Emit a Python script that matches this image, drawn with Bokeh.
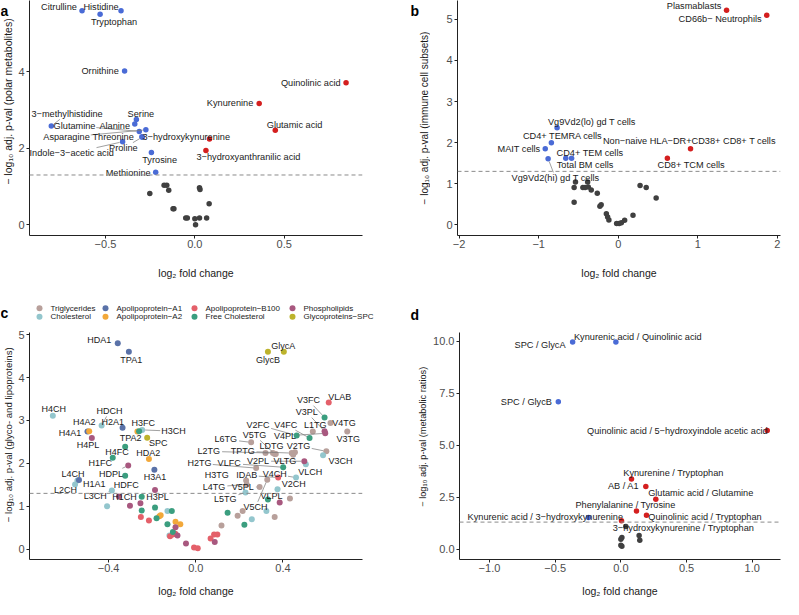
import math
from bokeh.plotting import figure
from bokeh.models import Range1d, Span, FixedTicker, CustomJSTickFormatter
from bokeh.layouts import row, column
from bokeh.embed import file_html
from bokeh.resources import INLINE
from bokeh.core.properties import value

SIG_LEVEL = 0.05
X_TITLE = "log\u2082 fold change"

# ---------------- panel a : polar metabolites ----------------
A_YTITLE = "\u2212 log\u2081\u2080 adj. p-val (polar metabolites)"
A_XTICKS = [-0.5, 0.0, 0.5]
A_YTICKS = [0, 2, 4]
a_names = ["Citrulline", "Histidine", "Tryptophan", "Ornithine", "Serine", "Alanine",
           "3\u2212methylhistidine", "Glutamine", "Asparagine", "Threonine", "Proline",
           "Indole\u22123\u2212acetic acid", "Tyrosine", "Methionine",
           "Quinolinic acid", "Kynurenine", "Glutamic acid", "3\u2212hydroxykynurenine",
           "3\u2212hydroxyanthranilic acid"]
a_fc = [-0.631, -0.413, -0.530, -0.393, -0.327, -0.336, -0.803, -0.311, -0.274, -0.296, -0.294,
        -0.404, -0.243, -0.219, 0.846, 0.360, 0.450, 0.082, 0.062]
a_p = [5.59, 5.59, 5.50, 4.02, 2.75, 2.63, 2.58, 2.44, 2.48, 2.30, 2.29,
       2.17, 1.89, 1.37, 3.71, 3.17, 2.47, 2.24, 1.94]
a_lab_x = [-0.760, -0.525, -0.452, -0.530, -0.302, -0.448, -0.715, -0.673, -0.718, -0.457, -0.400,
           -0.689, -0.197, -0.373, 0.649, 0.197, 0.558, -0.048, 0.300]
a_lab_y = [5.70, 5.70, 5.29, 4.01, 2.90, 2.59, 2.90, 2.59, 2.29, 2.29, 2.00,
           1.87, 1.70, 1.36, 3.70, 3.17, 2.62, 2.29, 1.77]
a_leader = ["3\u2212methylhistidine", "Glutamine", "Asparagine", "Proline", "Indole\u22123\u2212acetic acid"]
a_ns_fc = [-0.252, -0.172, -0.157, -0.146, 0.026, 0.029, 0.080, -0.122, -0.117, -0.051, -0.042,
           0.000, 0.026, 0.066, 0.004]
a_ns_p = [0.82, 1.03, 1.03, 0.90, 0.97, 0.92, 0.55, 0.42, 0.42, 0.18, 0.18, 0.16, 0.18, 0.18, 0.00]

# ---------------- panel b : immune cell subsets ----------------
B_YTITLE = "\u2212 log\u2081\u2080 adj. p-val (immune cell subsets)"
B_XTICKS = [-2, -1, 0, 1, 2]
B_YTICKS = [0, 1, 2, 3, 4, 5]
b_names = ["Plasmablasts", "CD66b\u2212 Neutrophils", "Non\u2212naive HLA\u2212DR+CD38+ CD8+ T cells",
           "CD8+ TCM cells", "Vg9Vd2(lo) gd T cells", "CD4+ TEMRA cells", "MAIT cells",
           "CD4+ TEM cells", "Total BM cells", "Vg9Vd2(hi) gd T cells"]
b_fc = [1.362, 1.867, 0.909, 0.618, -0.768, -0.840, -0.917, -0.586, -0.659, -0.881]
b_p = [5.22, 5.10, 1.85, 1.62, 2.36, 2.00, 1.85, 1.62, 1.62, 1.61]
b_lab_x = [0.954, 1.281, 0.895, 0.917, -0.331, -0.699, -1.248, -0.356, -0.416, -0.788]
b_lab_y = [5.32, 5.02, 2.04, 1.46, 2.50, 2.16, 1.85, 1.75, 1.46, 1.14]
b_leader = ["Vg9Vd2(hi) gd T cells"]
b_ns_fc = [-0.537, -0.554, -0.444, -0.416, -0.384, -0.376, -0.339, -0.554, -0.263, -0.230, -0.214,
           -0.149, -0.133, -0.117, -0.020, 0.012, 0.040, 0.081, 0.186, 0.275, 0.352, 0.477]
b_ns_p = [1.04, 0.91, 0.91, 0.91, 1.04, 0.92, 0.85, 0.55, 0.77, 0.45, 0.49,
          0.27, 0.19, 0.12, 0.03, 0.03, 0.05, 0.11, 0.23, 0.96, 0.91, 0.65]

# ---------------- panel c : glyco- and lipoproteins ----------------
C_YTITLE = "\u2212 log\u2081\u2080 adj. p-val (glyco- and lipoproteins)"
C_XTICKS = [-0.4, 0.0, 0.4]
C_YTICKS = [0, 1, 2, 3, 4, 5]
C_CATS = ["TG", "CH", "A1", "A2", "B100", "FC", "PL", "GP"]
C_CAT_NAMES = {"TG": "Triglycerides", "CH": "Cholesterol", "A1": "Apolipoprotein\u2212A1",
               "A2": "Apolipoprotein\u2212A2", "B100": "Apolipoprotein\u2212B100",
               "FC": "Free Cholesterol", "PL": "Phospholipids", "GP": "Glycoproteins\u2212SPC"}
c_names = ["HDA1", "TPA1", "GlycA", "GlycB", "VLAB", "V3FC", "V3PL", "V4TG", "L1TG", "V3TG",
           "V4FC", "V2FC", "V4PL", "V5TG", "L6TG", "V2TG", "LDTG", "L2TG", "TPTG", "V3CH",
           "H2TG", "VLFC", "V2PL", "VLTG", "VLCH", "H3TG", "IDAB", "V4CH", "V2CH", "L4TG",
           "V5PL", "VLPL", "L5TG", "V5CH", "H4CH", "HDCH", "H2A1", "H4A2", "H4A1", "H4PL",
           "H3FC", "TPA2", "H3CH", "SPC", "H4FC", "HDA2", "H1FC", "HDPL", "H3A1", "HDFC",
           "L4CH", "H1A1", "L2CH", "L3CH", "H1CH", "H3PL"]
c_cat = ["A1", "A1", "GP", "GP", "B100", "FC", "PL", "TG", "TG", "TG",
         "FC", "FC", "PL", "TG", "TG", "TG", "TG", "TG", "TG", "CH",
         "TG", "FC", "PL", "TG", "CH", "TG", "B100", "CH", "CH", "TG",
         "TG", "FC", "CH", "TG", "CH", "CH", "A1", "A2", "A1", "PL",
         "FC", "A2", "CH", "GP", "FC", "A2", "FC", "PL", "A1", "FC",
         "CH", "A1", "CH", "CH", "PL", "PL"]
c_fc = [-0.358, -0.307, 0.404, 0.331, 0.610, 0.591, 0.591, 0.618, 0.537, 0.695,
        0.522, 0.463, 0.594, 0.362, 0.254, 0.599, 0.447, 0.354, 0.440, 0.584,
        0.277, 0.401, 0.498, 0.455, 0.505, 0.231, 0.378, 0.460, 0.375, 0.234,
        0.293, 0.331, 0.228, 0.328, -0.656, -0.432, -0.336, -0.489, -0.497, -0.477,
        -0.260, -0.268, -0.246, -0.223, -0.324, -0.215, -0.381, -0.310, -0.190, -0.324,
        -0.543, -0.536, -0.554, -0.385, -0.353, -0.187]
c_p = [4.80, 4.60, 4.60, 4.60, 3.42, 3.07, 2.75, 2.94, 2.74, 2.74,
       2.59, 2.65, 2.70, 2.22, 2.49, 2.28, 2.20, 2.24, 2.24, 2.19,
       1.89, 1.91, 2.05, 2.26, 1.98, 1.60, 1.67, 1.67, 1.40, 1.51,
       1.45, 1.16, 1.32, 1.62, 3.11, 2.88, 2.83, 2.75, 2.74, 2.59,
       2.75, 2.74, 2.78, 2.60, 2.39, 2.10, 2.13, 1.95, 1.85, 1.71,
       1.60, 1.61, 1.51, 1.37, 1.23, 1.38]
c_lab_x = [-0.443, -0.296, 0.401, 0.331, 0.661, 0.517, 0.509, 0.680, 0.548, 0.700,
           0.413, 0.285, 0.409, 0.269, 0.138, 0.471, 0.347, 0.060, 0.215, 0.664,
           0.017, 0.153, 0.285, 0.409, 0.525, 0.096, 0.234, 0.362, 0.450, 0.084,
           0.215, 0.347, 0.135, 0.274, -0.652, -0.396, -0.381, -0.512, -0.577, -0.494,
           -0.241, -0.299, -0.102, -0.172, -0.361, -0.218, -0.438, -0.389, -0.187, -0.319,
           -0.563, -0.466, -0.598, -0.461, -0.327, -0.176]
c_lab_y = [4.88, 4.41, 4.74, 4.41, 3.54, 3.47, 3.19, 2.94, 2.89, 2.56,
           2.90, 2.90, 2.64, 2.66, 2.56, 2.41, 2.41, 2.28, 2.28, 2.05,
           2.00, 2.00, 2.05, 2.05, 1.79, 1.72, 1.72, 1.75, 1.51, 1.45,
           1.45, 1.23, 1.18, 0.98, 3.27, 3.22, 2.96, 2.96, 2.70, 2.43,
           2.93, 2.59, 2.75, 2.47, 2.26, 2.25, 2.02, 1.76, 1.68, 1.49,
           1.76, 1.51, 1.38, 1.23, 1.22, 1.22]
c_leader = ["V3FC", "V3PL", "V2FC", "V4FC", "V4PL", "V5TG", "L6TG", "L2TG", "TPTG", "V2TG",
            "H2TG", "VLFC", "V2PL", "VLCH", "IDAB", "V4CH", "V2CH", "L4TG", "V5PL", "L5TG",
            "V5CH", "VLPL", "HDCH", "H3CH", "HDPL", "H1A1", "L3CH"]
c_other_fc = [-0.407, -0.302, -0.254, -0.248, -0.248, -0.252, -0.215, -0.187, -0.180, -0.167,
              -0.161, -0.130, -0.110, -0.130, -0.121, -0.118, -0.105, -0.094, -0.093, -0.093,
              -0.071, -0.084, -0.045, -0.008, 0.009, -0.105, 0.068, 0.084, 0.099, 0.087,
              0.118, 0.146, 0.192, 0.215, 0.223, 0.257, 0.324, 0.362, 0.385, 0.432,
              0.320, 0.367]
c_other_p = [1.00, 1.01, 1.07, 1.22, 0.90, 0.75, 0.67, 0.97, 0.72, 0.77,
             0.79, 0.89, 0.89, 0.58, 0.32, 0.30, 0.34, 0.36, 0.51, 0.64,
             0.58, 0.32, 0.13, 0.04, 0.02, 0.40, 0.25, 0.34, 0.34, 0.17,
             0.55, 0.85, 0.78, 0.89, 0.57, 0.70, 0.89, 0.75, 1.09, 1.18,
             2.24, 2.22]
c_other_cat = ["CH", "PL", "PL", "FC", "FC", "B100", "B100", "FC", "FC", "A2",
               "A2", "CH", "FC", "FC", "CH", "B100", "B100", "B100", "PL", "A2",
               "A2", "PL", "PL", "B100", "B100", "FC", "B100", "B100", "B100", "PL",
               "TG", "FC", "TG", "TG", "FC", "CH", "CH", "TG", "PL", "TG",
               "TG", "TG"]

# ---------------- panel d : metabolic ratios ----------------
D_YTITLE = "\u2212 log\u2081\u2080 adj. p-val (metabolic ratios)"
D_XTICKS = [-1.0, -0.5, 0.0, 0.5, 1.0]
D_YTICKS = [0.0, 2.5, 5.0, 7.5, 10.0]
d_names = ["SPC / GlycA", "Kynurenic acid / Quinolinic acid", "SPC / GlycB",
           "Kynurenic acid / 3\u2212hydroxykynurenine",
           "Quinolinic acid / 5\u2212hydroxyindole acetic acid", "Kynurenine / Tryptophan", "AB / A1",
           "Glutamic acid / Glutamine", "Phenylalanine / Tyrosine", "Quinolinic acid / Tryptophan",
           "3\u2212hydroxykynurenine / Tryptophan"]
d_fc = [-0.367, -0.038, -0.476, -0.246, 1.114, 0.081, 0.190, 0.266, 0.119, 0.195, 0.005]
d_p = [9.97, 9.97, 7.10, 1.52, 5.71, 3.38, 3.02, 2.40, 1.83, 1.63, 1.36]
d_lab_x = [-0.615, 0.129, -0.719, -0.575, 0.430, 0.400, 0.020, 0.608, 0.035, 0.641, 0.476]
d_lab_y = [9.81, 10.20, 7.10, 1.55, 5.71, 3.66, 3.02, 2.68, 2.11, 1.57, 1.02]
d_leader = []
d_ns_fc = [0.038, 0.008, 0.000, 0.008, 0.000, 0.139, 0.144]
d_ns_p = [1.09, 0.56, 0.48, 0.14, 0.19, 0.65, 0.43]

# ---------------- styles ----------------
FONT = "Liberation Sans"
RED = "#D41F1F"
BLUE = "#4A6BD6"
GREY = "#404040"
CAT_COLORS = {"TG": "#B8A09B", "CH": "#93C6CD", "A1": "#5A72A8", "A2": "#F2A83A",
              "B100": "#E4606A", "FC": "#3B9E7F", "PL": "#A8587F", "GP": "#BDB32C"}
LAB_SIZE = 9.2


def text_width(s, size):
    w = 0.0
    for ch in s:
        if ch in "iljt.,:;'|!I":
            w += 0.26
        elif ch in "fr-()/ ":
            w += 0.31
        elif ch in "mMWw":
            w += 0.83
        elif ch.isupper():
            w += 0.69
        elif ch.isdigit():
            w += 0.556
        elif ch == "\u2212" or ch == "+":
            w += 0.584
        else:
            w += 0.53
    return w * size


def leaders(names, px, py, lx, ly, which, sx, sy, size):
    x0s, y0s, x1s, y1s = [], [], [], []
    for n, a, b, c, d in zip(names, px, py, lx, ly):
        if n not in which:
            continue
        dx = (a - c) * sx
        dy = (b - d) * sy
        dist = math.hypot(dx, dy)
        if dist == 0:
            continue
        hw = text_width(n, size) / 2 + 1.5
        hh = size * 0.5 + 1.0
        t = min(hw / abs(dx) if dx else 1e9, hh / abs(dy) if dy else 1e9)
        t_end = 1 - 3.0 / dist
        if t >= t_end:
            continue
        x0s.append(c + t * dx / sx)
        y0s.append(d + t * dy / sy)
        x1s.append(c + t_end * dx / sx)
        y1s.append(d + t_end * dy / sy)
    return x0s, y0s, x1s, y1s


def fmt(decimals):
    return CustomJSTickFormatter(
        code="return (tick < 0 ? '\\u2212' : '') + Math.abs(tick).toFixed(%d);" % decimals)


def bare(w, h, borders, xr, yr):
    l, r, t, b = borders
    p = figure(width=w, height=h, x_range=Range1d(*xr), y_range=Range1d(*yr),
               output_backend="svg", toolbar_location=None,
               min_border_left=l, min_border_right=r, min_border_top=t, min_border_bottom=b)
    p.outline_line_color = None
    p.background_fill_color = "white"
    p.border_fill_color = "white"
    return p


def make_fig(w, h, xr, yr, borders, xticks, yticks, xdec, ydec, title_standoff):
    p = bare(w, h, borders, xr, yr)
    p.grid.visible = False
    p.xaxis.ticker = FixedTicker(ticks=xticks)
    p.yaxis.ticker = FixedTicker(ticks=yticks)
    p.xaxis.formatter = fmt(xdec)
    p.yaxis.formatter = fmt(ydec)
    p.xaxis.axis_label = X_TITLE
    for ax in (p.xaxis[0], p.yaxis[0]):
        ax.axis_line_color = "#222222"
        ax.axis_line_width = 1
        ax.major_tick_line_color = "#222222"
        ax.major_tick_out = 3
        ax.major_tick_in = 0
        ax.minor_tick_line_color = None
        ax.major_label_text_font = FONT
        ax.major_label_text_font_size = "11px"
        ax.major_label_text_color = "#4D4D4D"
        ax.axis_label_text_font = FONT
        ax.axis_label_text_font_style = "normal"
        ax.axis_label_text_color = "#1A1A1A"
    p.xaxis.major_label_standoff = 1
    p.xaxis.axis_label_standoff = title_standoff
    p.xaxis.axis_label_text_font_size = "10.5px"
    p.yaxis.major_label_standoff = 2
    p.add_layout(Span(location=-math.log10(SIG_LEVEL), dimension="width",
                      line_color="#8A8A8A", line_dash="4 3", line_width=1))
    return p


def strip(w, h, borders):
    l, r, t, b = borders
    fw_, fh_ = w - l - r, h - t - b
    s = figure(width=w, height=h, x_range=Range1d(0, fw_), y_range=Range1d(0, fh_),
               output_backend="svg", toolbar_location=None,
               x_axis_location=None, y_axis_location=None,
               min_border_left=l, min_border_right=r, min_border_top=t, min_border_bottom=b)
    s.grid.visible = False
    s.outline_line_color = None
    s.background_fill_color = "white"
    s.border_fill_color = "white"
    return s


def put_letter(s, letter, x, y):
    s.text(x=[x], y=[y], text=[letter], text_align="left", text_baseline="alphabetic",
           text_font=value(FONT), text_font_size=value("14px"), text_font_style="bold",
           text_color="black")


def put_ytitle(s, title, x, y, size):
    s.text(x=[x], y=[y], text=[title], angle=math.pi / 2, text_align="center",
           text_baseline="middle", text_font=value(FONT), text_font_size=value("%gpx" % size),
           text_color="#1A1A1A")


def add_labels(p, names, px, py, lx, ly, which, sx, sy, size):
    x0, y0, x1, y1 = leaders(names, px, py, lx, ly, which, sx, sy, size)
    if x0:
        p.segment(x0=x0, y0=y0, x1=x1, y1=y1, line_color="#777777", line_width=0.7)
    p.text(x=lx, y=ly, text=names, text_align="center", text_baseline="middle",
           text_font=value(FONT), text_font_size=value("%gpx" % size), text_color="#1A1A1A")


def volcano(p, names, fc, pv, lx, ly, which, ns_fc, ns_p, sx, sy, pt=5.5):
    p.scatter(x=ns_fc, y=ns_p, size=pt, color=GREY, line_color=None)
    cols = [RED if v > 0 else BLUE for v in fc]
    p.scatter(x=fc, y=pv, size=pt, color=cols, line_color=None)
    add_labels(p, names, fc, pv, lx, ly, which, sx, sy, LAB_SIZE)


def scales(w, h, b, xr, yr):
    fw_, fh_ = w - b[0] - b[1], h - b[2] - b[3]
    return fw_ / (xr[1] - xr[0]), fh_ / (yr[1] - yr[0])


# column widths (same in both rows) and row heights
W_S1, W_P1, W_S2, W_P2 = 15, 375, 40, 353
TOP_H, MID_H, BOT_H = 292, 34, 273
ROW1_TB = (0, 57)
ROW2_TB = (6, 34)
P1_LR = (13, 28)
P2_LR = (27, 3)

# ---- row 1
A_XR, A_YR = (-0.925, 0.938), (-0.28, 5.86)
A_B = P1_LR + ROW1_TB
pa = make_fig(W_P1, TOP_H, A_XR, A_YR, A_B, A_XTICKS, A_YTICKS, 1, 0, 16)
volcano(pa, a_names, a_fc, a_p, a_lab_x, a_lab_y, a_leader, a_ns_fc, a_ns_p,
        *scales(W_P1, TOP_H, A_B, A_XR, A_YR))
sa = strip(W_S1, TOP_H, (0, 0) + ROW1_TB)
put_letter(sa, "a", 0, 225)
put_ytitle(sa, A_YTITLE, 7.5, 134, 10.5)

B_XR, B_YR = (-2.02, 2.04), (-0.26, 5.46)
B_B = P2_LR + ROW1_TB
pb = make_fig(W_P2, TOP_H, B_XR, B_YR, B_B, B_XTICKS, B_YTICKS, 0, 0, 16)
volcano(pb, b_names, b_fc, b_p, b_lab_x, b_lab_y, b_leader, b_ns_fc, b_ns_p,
        *scales(W_P2, TOP_H, B_B, B_XR, B_YR))
sb = strip(W_S2, TOP_H, (0, 0) + ROW1_TB)
put_letter(sb, "b", 20, 225)
put_ytitle(sb, B_YTITLE, 34, 117.5, 10)

# ---- middle strip: legend of panel c and letters c, d
mid = strip(W_S1 + W_P1 + W_S2 + W_P2, MID_H, (0, 0, 0, 0))
LEG_COL_X = [39, 105, 194, 292]
LEG_ROW_Y = [18.3, 9.7]
leg_x = [LEG_COL_X[i // 2] for i in range(len(C_CATS))]
leg_y = [LEG_ROW_Y[i % 2] for i in range(len(C_CATS))]
mid.scatter(x=leg_x, y=leg_y, size=6, color=[CAT_COLORS[c] for c in C_CATS], line_color=None)
mid.text(x=[v + 11 for v in leg_x], y=leg_y, text=[C_CAT_NAMES[c] for c in C_CATS],
         text_align="left", text_baseline="middle", text_font=value(FONT),
         text_font_size=value("8px"), text_color="#1A1A1A")
put_letter(mid, "c", 0, 14)
put_letter(mid, "d", 410, 12)

# ---- row 2
C_XR, C_YR = (-0.763, 0.765), (-0.24, 5.05)
C_B = P1_LR + ROW2_TB
pc = make_fig(W_P1, BOT_H, C_XR, C_YR, C_B, C_XTICKS, C_YTICKS, 1, 0, 10)
all_fc = c_fc + c_other_fc
all_p = c_p + c_other_p
all_cat = c_cat + c_other_cat
for cat in C_CATS:
    xs = [x for x, c in zip(all_fc, all_cat) if c == cat]
    ys = [y for y, c in zip(all_p, all_cat) if c == cat]
    pc.scatter(x=xs, y=ys, size=6, color=CAT_COLORS[cat], line_color=None)
add_labels(pc, c_names, c_fc, c_p, c_lab_x, c_lab_y, c_leader,
           *scales(W_P1, BOT_H, C_B, C_XR, C_YR), 9.0)
sc = strip(W_S1, BOT_H, (0, 0) + ROW2_TB)
put_ytitle(sc, C_YTITLE, 7.5, 128, 9.6)

D_XR, D_YR = (-1.228, 1.215), (-0.50, 10.43)
D_B = P2_LR + ROW2_TB
pd_ = make_fig(W_P2, BOT_H, D_XR, D_YR, D_B, D_XTICKS, D_YTICKS, 1, 1, 10)
volcano(pd_, d_names, d_fc, d_p, d_lab_x, d_lab_y, d_leader, d_ns_fc, d_ns_p,
        *scales(W_P2, BOT_H, D_B, D_XR, D_YR))
sd = strip(W_S2, BOT_H, (0, 0) + ROW2_TB)
put_ytitle(sd, D_YTITLE, 32, 126, 9.2)

layout = column(row(sa, pa, sb, pb), mid, row(sc, pc, sd, pd_))
open("out.html", "w").write(file_html(layout, INLINE))
